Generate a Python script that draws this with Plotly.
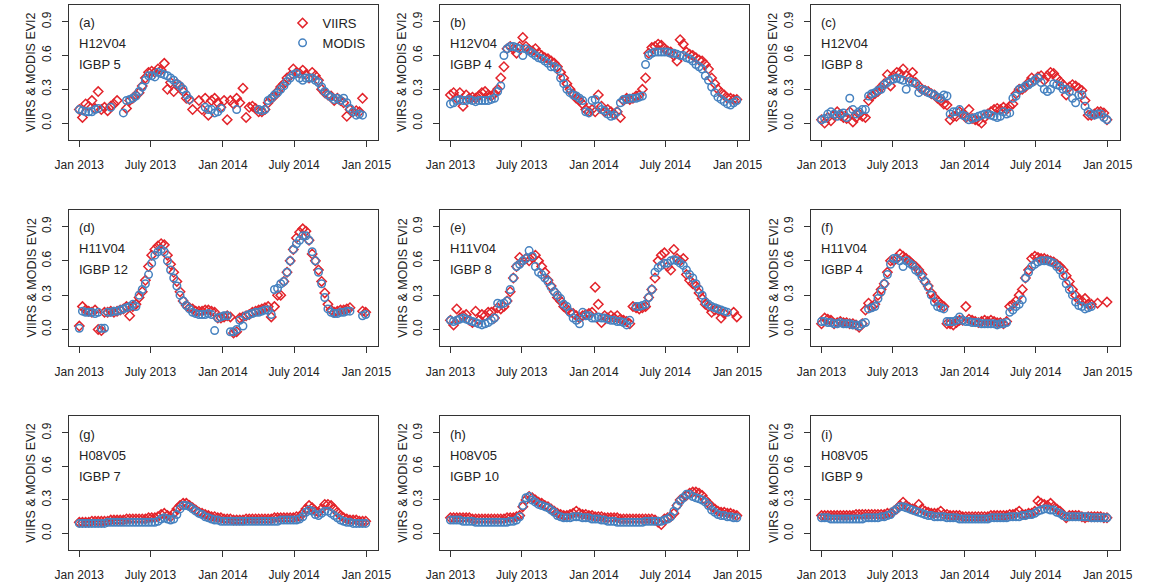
import pandas as pd
import plotly.graph_objects as go

N = None
# 8-day sampling dates, Jan 2013 - Dec 2014
dates = pd.date_range("2013-01-01", periods=92, freq="8D")

viirs_a = [0.12, 0.05, 0.17, 0.15, 0.20, 0.13, 0.28, 0.12, 0.14, 0.11,
           0.15, 0.17, 0.20, N, N, 0.13, 0.20, 0.22, 0.25, 0.27,
           0.33, 0.40, 0.45, 0.46, 0.45, 0.48, 0.47, 0.53, 0.30, 0.36,
           0.28, 0.35, 0.33, 0.28, 0.22, 0.21, 0.12, N, 0.20, 0.12,
           0.22, 0.07, 0.20, 0.22, 0.18, 0.14, 0.20, 0.03, 0.20, 0.17,
           0.22, 0.18, 0.31, 0.05, 0.14, 0.15, 0.13, 0.10, 0.10, 0.12,
           0.18, 0.22, 0.24, 0.28, 0.32, 0.35, 0.40, 0.42, 0.48, 0.45,
           0.44, 0.47, 0.43, 0.40, 0.45, 0.42, 0.38, 0.30, 0.27, 0.25,
           0.24, 0.20, 0.22, 0.20, 0.18, 0.06, 0.12, 0.10, 0.11, 0.10,
           0.22, N]
modis_a = [0.12, 0.11, 0.10, 0.10, 0.10, 0.12, 0.13, N, N, N,
           0.14, N, N, N, 0.09, 0.20, 0.21, 0.22, 0.24, 0.28,
           0.32, 0.38, 0.42, 0.42, 0.41, 0.45, 0.44, 0.43, 0.42, 0.40,
           0.38, 0.35, 0.33, 0.30, 0.25, 0.21, N, N, N, N,
           0.14, 0.12, 0.12, 0.09, 0.10, 0.13, N, N, N, N,
           0.12, N, N, N, N, N, N, 0.12, 0.11, 0.12,
           0.20, 0.22, 0.25, 0.27, 0.30, 0.33, 0.37, 0.40, 0.43, 0.44,
           0.40, 0.38, 0.40, 0.40, 0.40, 0.38, 0.36, 0.32, 0.28, 0.25,
           0.23, 0.21, 0.22, 0.20, 0.22, 0.18, 0.13, 0.10, 0.07, 0.08,
           0.07, N]

viirs_b = [0.25, 0.27, 0.22, 0.27, 0.15, 0.25, 0.22, 0.23, 0.22, 0.24,
           0.27, 0.28, 0.25, 0.24, 0.26, 0.30, 0.40, 0.50, 0.66, 0.68,
           0.66, 0.62, 0.68, 0.76, 0.68, 0.65, 0.64, 0.66, 0.62, 0.60,
           0.58, 0.57, 0.55, 0.53, 0.50, 0.45, 0.40, 0.35, 0.30, 0.26,
           0.22, 0.20, 0.17, 0.12, 0.10, 0.12, 0.10, 0.25, 0.15, 0.10,
           0.12, 0.10, 0.08, 0.10, 0.05, 0.20, 0.22, 0.21, 0.22, 0.24,
           0.25, 0.30, 0.40, 0.62, 0.67, 0.68, 0.70, 0.69, 0.66, 0.64,
           0.63, 0.60, 0.55, 0.74, 0.70, 0.63, 0.61, 0.60, 0.58, 0.56,
           0.55, 0.52, 0.48, 0.40, 0.35, 0.30, 0.27, 0.25, 0.22, 0.22,
           0.21, 0.21]
modis_b = [0.17, 0.18, 0.20, 0.21, 0.20, 0.20, 0.21, 0.20, 0.19, 0.20,
           0.20, 0.20, 0.20, 0.21, 0.22, 0.28, 0.33, 0.60, 0.66, 0.68,
           0.68, 0.67, 0.66, 0.60, 0.66, 0.64, 0.62, 0.60, 0.58, 0.57,
           0.55, 0.53, 0.50, 0.50, 0.48, 0.40, 0.35, 0.30, 0.27, 0.25,
           0.24, 0.22, 0.20, 0.10, 0.09, 0.20, 0.21, 0.15, 0.12, 0.11,
           0.08, 0.06, 0.07, 0.10, 0.18, 0.21, 0.21, 0.22, 0.22, 0.22,
           0.23, 0.24, 0.52, 0.60, 0.62, 0.63, 0.63, 0.63, 0.63, 0.63,
           0.62, 0.62, 0.61, 0.60, 0.60, 0.58, 0.57, 0.55, 0.52, 0.50,
           0.48, 0.42, 0.38, 0.32, 0.27, 0.23, 0.21, 0.19, 0.17, 0.16,
           0.18, 0.20]

viirs_c = [0.03, 0.00, 0.05, 0.02, 0.07, 0.10, 0.07, 0.05, 0.04, 0.10,
           0.01, 0.05, 0.08, 0.06, 0.05, 0.20, 0.24, 0.26, 0.28, 0.32,
           0.35, 0.43, 0.33, 0.42, 0.45, 0.44, 0.48, 0.42, 0.40, 0.45,
           0.36, 0.33, 0.30, 0.29, 0.28, 0.26, 0.25, 0.22, 0.20, 0.17,
           0.16, 0.03, 0.06, 0.06, 0.10, 0.08, 0.05, 0.12, 0.04, 0.03,
           0.02, 0.00, 0.05, 0.08, 0.10, 0.12, 0.13, 0.12, 0.14, 0.12,
           0.15, 0.17, 0.26, 0.30, 0.30, 0.32, 0.36, 0.40, 0.38, 0.41,
           0.42, 0.38, 0.42, 0.45, 0.44, 0.40, 0.37, 0.34, 0.25, 0.32,
           0.34, 0.33, 0.31, 0.29, 0.20, 0.07, 0.07, 0.08, 0.10, 0.10,
           0.09, 0.03]
modis_c = [0.03, 0.04, 0.08, 0.10, 0.08, 0.06, 0.08, 0.09, 0.05, 0.22,
           0.12, 0.08, 0.10, 0.12, 0.12, 0.24, 0.26, 0.27, 0.29, 0.30,
           0.34, 0.36, 0.38, 0.39, 0.40, 0.39, 0.38, 0.30, 0.37, 0.36,
           0.35, 0.27, 0.30, 0.29, 0.27, 0.26, 0.25, 0.23, 0.22, 0.25,
           0.24, 0.08, 0.10, 0.10, 0.12, 0.07, 0.06, 0.03, 0.04, 0.05,
           0.06, 0.07, 0.08, 0.08, 0.07, 0.06, 0.05, 0.06, 0.10, 0.08,
           0.09, 0.22, 0.24, 0.30, 0.31, 0.33, 0.34, 0.36, 0.38, 0.40,
           0.36, 0.30, 0.28, 0.30, 0.35, 0.34, 0.33, 0.30, 0.30, 0.28,
           0.22, 0.18, 0.25, 0.25, 0.15, 0.10, 0.08, 0.07, 0.08, 0.08,
           0.05, 0.03]

viirs_d = [0.03, 0.20, 0.17, 0.16, 0.15, 0.17, 0.00, -0.01, 0.15, 0.15,
           0.16, 0.15, 0.16, 0.17, 0.18, 0.20, 0.12, 0.20, 0.22, 0.28,
           0.33, 0.43, 0.55, 0.65, 0.70, 0.73, 0.75, 0.74, 0.65, 0.57,
           0.50, 0.42, 0.33, 0.25, 0.21, 0.19, 0.18, 0.16, 0.16, 0.16,
           0.17, 0.17, 0.16, 0.15, 0.10, 0.10, 0.11, 0.12, 0.11, -0.03,
           -0.02, 0.10, 0.11, 0.12, 0.13, 0.15, 0.16, 0.17, 0.18, 0.19,
           0.20, 0.11, 0.20, 0.30, 0.30, 0.42, 0.50, 0.60, 0.70, 0.80,
           0.85, 0.88, 0.86, 0.78, 0.66, 0.60, 0.52, 0.42, 0.32, 0.22,
           0.17, 0.15, 0.16, 0.17, 0.17, 0.18, 0.19, N, N, N,
           0.16, 0.15]
modis_d = [0.01, 0.16, 0.15, 0.15, 0.15, 0.14, 0.15, 0.01, 0.01, 0.15,
           0.15, 0.16, 0.16, 0.17, 0.18, 0.19, 0.20, 0.22, 0.20, 0.30,
           0.35, 0.40, 0.48, 0.58, 0.65, 0.68, 0.70, 0.68, 0.60, 0.52,
           0.45, 0.38, 0.30, 0.25, 0.21, 0.18, 0.15, 0.14, 0.13, 0.13,
           0.13, 0.14, 0.13, -0.01, 0.10, 0.11, 0.12, 0.12, -0.02, -0.02,
           0.00, 0.08, 0.03, 0.12, 0.13, 0.14, 0.15, 0.15, 0.16, 0.17,
           0.17, 0.13, 0.35, 0.36, 0.40, 0.42, 0.50, 0.60, 0.70, 0.75,
           0.78, 0.82, 0.82, 0.78, 0.68, 0.60, 0.50, 0.40, 0.28, 0.18,
           0.15, 0.14, 0.14, 0.15, 0.15, 0.16, 0.16, N, N, N,
           0.12, 0.13]

viirs_e = [0.08, 0.04, 0.18, 0.10, 0.12, 0.13, 0.08, 0.06, 0.16, 0.08,
           0.13, 0.12, 0.15, 0.15, 0.10, 0.19, 0.18, 0.20, 0.25, 0.33,
           0.45, 0.55, 0.63, 0.60, 0.62, 0.60, 0.63, 0.65, 0.60, 0.55,
           0.50, 0.43, 0.38, 0.33, 0.28, 0.25, 0.20, 0.18, 0.15, 0.14,
           0.12, 0.10, 0.12, 0.13, 0.14, 0.15, 0.37, 0.22, 0.06, 0.12,
           0.10, 0.12, 0.10, 0.12, 0.09, 0.08, 0.07, 0.05, 0.20, 0.19,
           0.18, 0.19, 0.20, 0.28, 0.35, 0.45, 0.60, 0.65, 0.67, 0.55,
           0.52, 0.70, 0.62, 0.60, 0.62, 0.48, 0.43, 0.40, 0.38, 0.32,
           0.27, 0.22, 0.20, 0.15, 0.17, 0.17, 0.10, 0.14, N, N,
           0.15, 0.11]
modis_e = [0.08, 0.07, 0.08, 0.09, 0.10, 0.09, 0.08, 0.07, 0.06, 0.05,
           0.04, 0.05, 0.06, 0.08, 0.10, 0.23, 0.22, 0.23, 0.25, 0.35,
           0.45, 0.55, 0.57, 0.60, 0.62, 0.69, 0.64, 0.55, 0.50, 0.48,
           0.45, 0.42, 0.37, 0.33, 0.30, 0.27, 0.22, 0.20, 0.15, 0.10,
           0.08, 0.05, 0.15, 0.12, 0.12, 0.10, 0.10, 0.11, 0.10, 0.10,
           0.09, 0.08, 0.08, 0.07, 0.07, 0.06, 0.04, 0.08, N, 0.20,
           0.20, 0.21, 0.22, 0.28, 0.35, 0.50, 0.54, 0.56, 0.58, 0.58,
           0.60, 0.61, 0.60, 0.58, 0.56, 0.52, 0.48, 0.45, 0.40, 0.35,
           0.30, 0.24, 0.22, 0.20, 0.19, 0.18, 0.17, 0.16, 0.15, N,
           N, N]

viirs_f = [0.05, 0.10, 0.09, 0.08, 0.05, 0.06, 0.07, 0.06, 0.06, 0.05,
           0.05, 0.04, 0.02, 0.05, 0.17, 0.23, 0.20, 0.22, 0.30, 0.35,
           0.40, 0.50, 0.60, 0.60, 0.62, 0.66, 0.64, 0.62, 0.60, 0.57,
           0.55, 0.52, 0.48, 0.42, 0.38, 0.32, 0.28, 0.25, 0.22, 0.20,
           0.05, 0.05, 0.04, 0.06, 0.08, 0.08, 0.20, 0.09, 0.08, 0.07,
           0.06, 0.07, 0.08, 0.07, 0.08, 0.07, 0.06, 0.06, 0.05, 0.07,
           0.20, 0.22, 0.25, 0.30, 0.35, 0.45, 0.52, 0.62, 0.64, 0.63,
           0.62, 0.62, 0.61, 0.60, 0.59, 0.57, 0.55, 0.52, 0.47, 0.42,
           0.35, 0.30, 0.26, 0.25, 0.27, 0.22, 0.22, N, 0.23, N,
           N, 0.24]
modis_f = [0.07, 0.07, 0.06, 0.06, 0.05, 0.05, 0.06, 0.05, 0.05, 0.05,
           0.04, 0.04, 0.03, 0.05, 0.06, 0.18, 0.19, 0.20, 0.27, 0.33,
           0.40, 0.48, 0.57, 0.62, 0.62, 0.60, 0.55, 0.60, 0.58, 0.56,
           0.52, 0.50, 0.46, 0.42, 0.37, 0.30, 0.24, 0.20, 0.19, 0.18,
           0.07, 0.07, 0.07, 0.08, 0.11, 0.08, 0.07, 0.07, 0.06, 0.06,
           0.06, 0.05, 0.05, 0.05, 0.05, 0.05, 0.04, 0.05, 0.05, 0.06,
           0.15, 0.17, 0.20, 0.22, 0.26, 0.45, 0.50, 0.55, 0.57, 0.59,
           0.60, 0.60, 0.60, 0.59, 0.58, 0.55, 0.52, 0.47, 0.40, 0.35,
           0.30, 0.24, 0.21, 0.20, 0.18, 0.19, 0.20, N, N, N,
           N, N]

viirs_g = [0.10, 0.10, 0.10, 0.10, 0.11, 0.11, 0.11, 0.11, 0.11, 0.11,
           0.12, 0.12, 0.12, 0.12, 0.12, 0.13, 0.13, 0.13, 0.13, 0.13,
           0.13, 0.13, 0.14, 0.14, 0.14, 0.15, 0.17, 0.18, 0.16, 0.15,
           0.18, 0.22, 0.25, 0.27, 0.27, 0.25, 0.23, 0.21, 0.19, 0.18,
           0.17, 0.16, 0.15, 0.15, 0.14, 0.14, 0.13, 0.13, 0.13, 0.12,
           0.12, 0.12, 0.12, 0.13, 0.13, 0.13, 0.13, 0.13, 0.13, 0.13,
           0.13, 0.13, 0.14, 0.14, 0.14, 0.14, 0.14, 0.14, 0.14, 0.15,
           0.15, 0.18, 0.22, 0.25, 0.23, 0.20, 0.19, 0.22, 0.26, 0.26,
           0.25, 0.22, 0.19, 0.16, 0.14, 0.13, 0.12, 0.12, 0.12, 0.11,
           0.11, 0.11]
modis_g = [0.09, 0.09, 0.09, 0.09, 0.09, 0.09, 0.09, 0.09, 0.09, 0.10,
           0.10, 0.10, 0.10, 0.10, 0.10, 0.10, 0.10, 0.10, 0.10, 0.10,
           0.10, 0.10, 0.10, 0.10, 0.10, 0.11, 0.13, 0.14, 0.13, 0.12,
           0.13, 0.17, 0.22, 0.25, 0.25, 0.24, 0.22, 0.20, 0.18, 0.17,
           0.15, 0.14, 0.13, 0.12, 0.12, 0.11, 0.11, 0.11, 0.11, 0.11,
           0.11, 0.11, 0.11, 0.11, 0.11, 0.11, 0.11, 0.11, 0.11, 0.11,
           0.11, 0.11, 0.11, 0.11, 0.12, 0.12, 0.12, 0.12, 0.12, 0.12,
           0.13, 0.15, 0.19, 0.21, 0.20, 0.17, 0.16, 0.18, 0.20, 0.20,
           0.18, 0.16, 0.14, 0.12, 0.11, 0.10, 0.10, 0.09, 0.09, 0.09,
           0.09, 0.09]

viirs_h = [0.14, 0.14, 0.14, 0.14, 0.14, 0.14, 0.14, 0.13, 0.13, 0.13,
           0.13, 0.13, 0.13, 0.13, 0.13, 0.13, 0.13, 0.13, 0.14, 0.14,
           0.14, 0.15, 0.16, 0.24, 0.30, 0.33, 0.32, 0.30, 0.28, 0.27,
           0.25, 0.24, 0.22, 0.20, 0.18, 0.17, 0.16, 0.16, 0.17, 0.18,
           0.20, 0.18, 0.17, 0.17, 0.16, 0.16, 0.15, 0.15, 0.15, 0.14,
           0.14, 0.14, 0.14, 0.14, 0.13, 0.13, 0.13, 0.13, 0.13, 0.13,
           0.13, 0.13, 0.13, 0.13, 0.13, 0.12, 0.10, 0.08, 0.13, 0.14,
           0.15, 0.18, 0.25, 0.30, 0.32, 0.34, 0.36, 0.37, 0.37, 0.36,
           0.34, 0.30, 0.27, 0.24, 0.22, 0.20, 0.19, 0.19, 0.18, 0.18,
           0.17, 0.16]
modis_h = [0.12, 0.12, 0.12, 0.12, 0.11, 0.11, 0.11, 0.11, 0.10, 0.10,
           0.10, 0.10, 0.10, 0.10, 0.10, 0.10, 0.10, 0.10, 0.10, 0.11,
           0.11, 0.12, 0.15, 0.25, 0.32, 0.33, 0.30, 0.28, 0.26, 0.25,
           0.24, 0.23, 0.21, 0.19, 0.16, 0.15, 0.14, 0.14, 0.14, 0.15,
           0.15, 0.15, 0.14, 0.14, 0.14, 0.13, 0.13, 0.13, 0.12, 0.12,
           0.11, 0.11, 0.11, 0.10, 0.10, 0.10, 0.10, 0.10, 0.10, 0.10,
           0.10, 0.10, 0.11, 0.11, 0.11, 0.11, 0.11, 0.11, 0.12, 0.13,
           0.15, 0.20, 0.25, 0.29, 0.32, 0.35, 0.35, 0.33, 0.32, 0.31,
           0.30, 0.28, 0.25, 0.21, 0.19, 0.17, 0.16, 0.16, 0.15, 0.15,
           0.14, 0.14]

viirs_i = [0.16, 0.16, 0.16, 0.16, 0.16, 0.16, 0.16, 0.16, 0.16, 0.16,
           0.16, 0.17, 0.17, 0.17, 0.17, 0.17, 0.17, 0.17, 0.17, 0.17,
           0.17, 0.18, 0.18, 0.20, 0.22, 0.25, 0.28, 0.25, 0.23, 0.22,
           0.21, 0.26, 0.22, 0.20, 0.19, 0.18, 0.18, 0.18, 0.20, 0.17,
           0.17, 0.16, 0.16, 0.16, 0.16, 0.15, 0.15, 0.15, 0.15, 0.15,
           0.15, 0.15, 0.15, 0.15, 0.16, 0.16, 0.16, 0.16, 0.16, 0.16,
           0.17, 0.17, 0.18, 0.20, 0.17, 0.17, 0.18, 0.18, 0.20, 0.29,
           0.27, 0.26, 0.25, 0.27, 0.24, 0.22, 0.20, 0.17, 0.14, 0.16,
           0.16, 0.16, 0.16, 0.15, 0.14, 0.15, 0.15, 0.15, 0.15, 0.15,
           0.14, 0.14]
modis_i = [0.14, 0.14, 0.14, 0.13, 0.13, 0.13, 0.13, 0.13, 0.13, 0.13,
           0.13, 0.13, 0.13, 0.13, 0.14, 0.14, 0.14, 0.14, 0.14, 0.15,
           0.15, 0.16, 0.17, 0.20, 0.22, 0.24, 0.24, 0.23, 0.22, 0.21,
           0.20, 0.19, 0.18, 0.17, 0.16, 0.16, 0.15, 0.15, 0.15, 0.15,
           0.14, 0.14, 0.14, 0.14, 0.13, 0.13, 0.13, 0.13, 0.13, 0.13,
           0.13, 0.13, 0.13, 0.13, 0.14, 0.14, 0.14, 0.14, 0.14, 0.14,
           0.15, 0.15, 0.15, 0.15, 0.16, 0.16, 0.17, 0.17, 0.18, 0.20,
           0.21, 0.22, 0.22, 0.21, 0.21, 0.19, 0.18, 0.16, 0.15, 0.15,
           0.15, 0.15, 0.15, 0.15, 0.15, 0.15, 0.14, 0.14, 0.14, 0.14,
           0.14, 0.14]

panel_letters = ["(a)", "(b)", "(c)", "(d)", "(e)", "(f)", "(g)", "(h)", "(i)"]
tiles = ["H12V04", "H12V04", "H12V04", "H11V04", "H11V04", "H11V04",
         "H08V05", "H08V05", "H08V05"]
igbp = ["IGBP 5", "IGBP 4", "IGBP 8", "IGBP 12", "IGBP 8", "IGBP 4",
        "IGBP 7", "IGBP 10", "IGBP 9"]
x_tick_vals = ["2013-01-01", "2013-07-01", "2014-01-01", "2014-07-01", "2015-01-01"]
x_tick_text = ["Jan 2013", "July 2013", "Jan 2014", "July 2014", "Jan 2015"]
y_tick_vals = [0.0, 0.3, 0.6, 0.9]
y_tick_text = ["0.0", "0.3", "0.6", "0.9"]
y_title = "VIIRS & MODIS EVI2"

viirs = [viirs_a, viirs_b, viirs_c, viirs_d, viirs_e, viirs_f, viirs_g, viirs_h, viirs_i]
modis = [modis_a, modis_b, modis_c, modis_d, modis_e, modis_f, modis_g, modis_h, modis_i]
for s in viirs + modis:
    assert len(s) == len(dates)

W, H = 1155, 582
RED = "#E3242B"
BLUE = "#4682C0"
FONT = "Arial, Liberation Sans, sans-serif"
TXT = "#222222"
col_px = [(56, 373), (436, 753), (816, 1132)]
row_px = [(5, 140), (210, 347), (417, 551)]

fig = go.Figure()
layout = dict(width=W, height=H, margin=dict(l=0, r=0, t=0, b=0),
              paper_bgcolor="white", plot_bgcolor="white",
              font=dict(family=FONT, color=TXT))
annotations = []
for k in range(9):
    r, c = divmod(k, 3)
    x0, x1 = col_px[c]
    y0, y1 = row_px[r]
    sfx = "" if k == 0 else str(k + 1)
    xa, ya = "x" + sfx, "y" + sfx
    layout["xaxis" + sfx] = dict(
        domain=[x0 / W, x1 / W], anchor=ya, type="date",
        range=["2012-12-05", "2015-01-31"],
        tickmode="array", tickvals=x_tick_vals, ticktext=x_tick_text,
        ticks="outside", ticklen=6, tickwidth=1, tickcolor="#333",
        showline=True, linecolor="#333", linewidth=1, mirror=True,
        showgrid=False, zeroline=False, ticklabelstandoff=8,
        tickfont=dict(size=12, color=TXT, family=FONT))
    layout["yaxis" + sfx] = dict(
        domain=[1 - y1 / H, 1 - y0 / H], anchor=xa,
        range=[-0.148, 1.048],
        tickmode="array", tickvals=y_tick_vals, ticktext=y_tick_text,
        tickangle=-90,
        ticks="outside", ticklen=6, tickwidth=1, tickcolor="#333",
        showline=True, linecolor="#333", linewidth=1, mirror=True,
        showgrid=False, zeroline=False, ticklabelstandoff=6,
        tickfont=dict(size=12, color=TXT, family=FONT))
    fig.add_trace(go.Scatter(
        x=dates, y=viirs[k], mode="markers", name="VIIRS",
        showlegend=(k == 0), xaxis=xa, yaxis=ya,
        marker=dict(symbol="diamond-open", size=7.2, color=RED,
                    line=dict(width=1.5, color=RED))))
    fig.add_trace(go.Scatter(
        x=dates, y=modis[k], mode="markers", name="MODIS",
        showlegend=(k == 0), xaxis=xa, yaxis=ya,
        marker=dict(symbol="circle-open", size=7.5, color=BLUE,
                    line=dict(width=1.5, color=BLUE))))
    for j, t in enumerate([panel_letters[k], tiles[k], igbp[k]]):
        annotations.append(dict(
            text=t, xref="paper", yref="paper",
            x=(x0 + 8) / W, y=1 - (y0 + 18 + 21 * j) / H,
            xanchor="left", yanchor="middle", showarrow=False,
            font=dict(size=13, color=TXT, family=FONT)))
    annotations.append(dict(
        text=y_title, xref="paper", yref="paper",
        x=(x0 - 38) / W, y=1 - ((y0 + y1) / 2) / H, textangle=-90,
        xanchor="center", yanchor="middle", showarrow=False,
        font=dict(size=12.5, color=TXT, family=FONT)))

layout["annotations"] = annotations
layout["legend"] = dict(x=275 / W, y=1 - 8 / H, xanchor="left", yanchor="top",
                        bgcolor="rgba(0,0,0,0)", borderwidth=0,
                        font=dict(size=13, color=TXT, family=FONT),
                        itemwidth=30, tracegroupgap=0)
fig.update_layout(**layout)
fig.write_html("out.html")
